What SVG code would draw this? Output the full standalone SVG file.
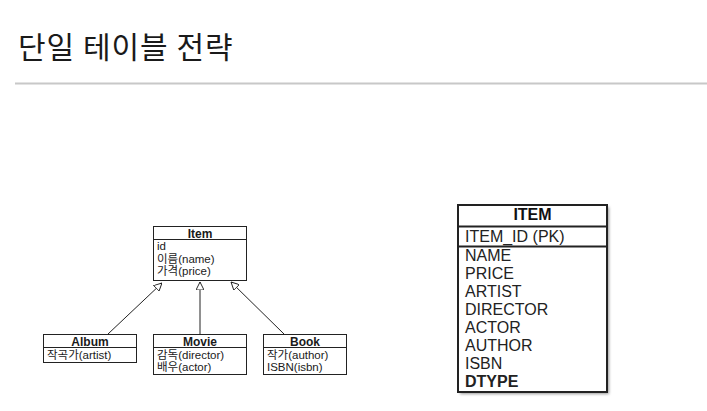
<svg xmlns="http://www.w3.org/2000/svg" width="707" height="411" viewBox="0 0 707 411">
<style>
  .title{font-family:"Noto Sans CJK KR","Noto Sans",sans-serif;font-size:30px;letter-spacing:1px;fill:#1a1a1a}
  .uml{font-family:"Liberation Sans","Noto Sans CJK KR",sans-serif;font-size:11.5px;fill:#1a1a1a}
  .umlh{font-family:"Liberation Sans","Noto Sans CJK KR",sans-serif;font-size:12px;font-weight:bold;fill:#1a1a1a;text-anchor:middle}
  .box{fill:#fff;stroke:#222;stroke-width:1}
  .tbl{font-family:"Liberation Sans",Arial,sans-serif;font-size:16px;fill:#222}
  .tblh{font-family:"Liberation Sans",Arial,sans-serif;font-size:16px;font-weight:bold;fill:#111;text-anchor:middle}
  .conn{stroke:#222;stroke-width:1;fill:none}
</style>
<defs>
  <marker id="tri" viewBox="0 0 10 10" refX="10" refY="5" markerWidth="8" markerHeight="8" markerUnits="userSpaceOnUse" orient="auto">
    <path d="M0,0 L10,5 L0,10 Z" fill="#fff" stroke="#222" stroke-width="1.2"/>
  </marker>
  <filter id="sh" x="-10%" y="-10%" width="120%" height="120%">
    <feGaussianBlur stdDeviation="1.5"/>
  </filter>
</defs>
<rect width="707" height="411" fill="#fff"/>
<text class="title" x="18" y="58">단일 테이블 전략</text>
<rect x="15" y="82.5" width="692" height="2" fill="#c8c8c8"/>

<g id="connectors">
  <line class="conn" x1="108" y1="334" x2="162" y2="283" marker-end="url(#tri)"/>
  <line class="conn" x1="200" y1="334" x2="200" y2="282" marker-end="url(#tri)"/>
  <line class="conn" x1="284" y1="334" x2="231" y2="282" marker-end="url(#tri)"/>
</g>

<g id="item">
  <rect class="box" x="153.5" y="226.5" width="93" height="54"/>
  <line class="conn" x1="153.5" y1="239.5" x2="246.5" y2="239.5"/>
  <text class="umlh" x="200" y="237.5">Item</text>
  <text class="uml" x="157" y="250">id</text>
  <text class="uml" x="157" y="262.5">이름(name)</text>
  <text class="uml" x="157" y="275">가격(price)</text>
</g>

<g id="album">
  <rect class="box" x="43.5" y="334.5" width="93" height="28"/>
  <line class="conn" x1="43.5" y1="347.5" x2="136.5" y2="347.5"/>
  <text class="umlh" x="90" y="345.5">Album</text>
  <text class="uml" x="47" y="358.5">작곡가(artist)</text>
</g>

<g id="movie">
  <rect class="box" x="153.5" y="334.5" width="93" height="40"/>
  <line class="conn" x1="153.5" y1="347.5" x2="246.5" y2="347.5"/>
  <text class="umlh" x="200" y="345.5">Movie</text>
  <text class="uml" x="157" y="358.5">감독(director)</text>
  <text class="uml" x="157" y="371">배우(actor)</text>
</g>

<g id="book">
  <rect class="box" x="263.5" y="334.5" width="83" height="40"/>
  <line class="conn" x1="263.5" y1="347.5" x2="346.5" y2="347.5"/>
  <text class="umlh" x="305" y="345.5">Book</text>
  <text class="uml" x="267" y="358.5">작가(author)</text>
  <text class="uml" x="267" y="371">ISBN(isbn)</text>
</g>

<g id="ITEM">
  <rect x="460" y="207" width="149" height="187" fill="#999" filter="url(#sh)"/>
  <rect x="458" y="205" width="149" height="187" fill="#fff" stroke="#222" stroke-width="2"/>
  <line x1="458" y1="226.5" x2="607" y2="226.5" stroke="#222" stroke-width="2"/>
  <line x1="458" y1="246.5" x2="607" y2="246.5" stroke="#222" stroke-width="2"/>
  <text class="tblh" x="532.5" y="220">ITEM</text>
  <text class="tbl" x="465" y="241.5">ITEM_ID (PK)</text>
  <text class="tbl" x="465" y="261">NAME</text>
  <text class="tbl" x="465" y="279">PRICE</text>
  <text class="tbl" x="465" y="297">ARTIST</text>
  <text class="tbl" x="465" y="315">DIRECTOR</text>
  <text class="tbl" x="465" y="333">ACTOR</text>
  <text class="tbl" x="465" y="351">AUTHOR</text>
  <text class="tbl" x="465" y="369">ISBN</text>
  <text class="tbl" x="465" y="387" font-weight="bold" fill="#111">DTYPE</text>
</g>
</svg>
